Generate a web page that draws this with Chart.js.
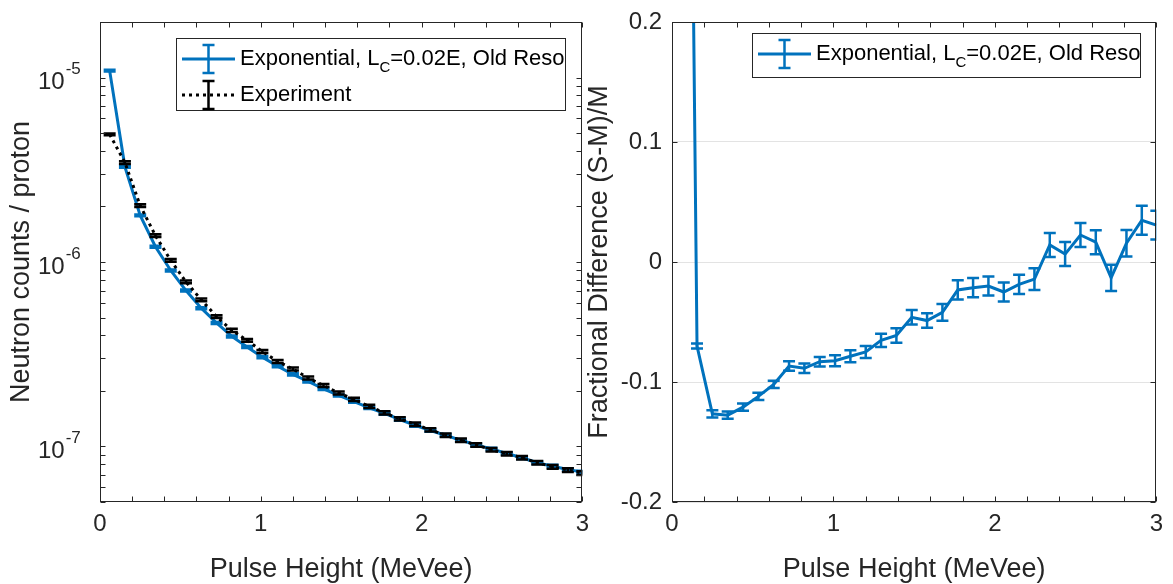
<!DOCTYPE html>
<html>
<head>
<meta charset="utf-8">
<script src="https://cdn.jsdelivr.net/npm/chart.js@4.4.1/dist/chart.umd.min.js"></script>
<style>
  html, body { margin: 0; padding: 0; background: #fff; }
  #wrap { position: relative; width: 1173px; height: 584px; overflow: hidden; }
  .pane { position: absolute; top: 0; }
</style>
</head>
<body>
<div id="wrap">
  <canvas id="left" class="pane" style="left:0" width="599" height="584"></canvas>
  <canvas id="right" class="pane" style="left:580px" width="593" height="584"></canvas>
</div>
<script>
// pulse height bin centres (MeVee)
var pulseHeight = [0.06, 0.155, 0.25, 0.345, 0.44, 0.535, 0.63, 0.725, 0.82, 0.915,
  1.01, 1.105, 1.2, 1.295, 1.39, 1.485, 1.58, 1.675, 1.77, 1.865,
  1.96, 2.055, 2.15, 2.245, 2.34, 2.435, 2.53, 2.625, 2.72, 2.815, 2.91, 3.0];

// simulation: Exponential, L_C=0.02E, Old Reso
var simCounts = [1.09e-5, 3.28e-6, 1.79e-6, 1.21e-6, 9.0e-7, 7.0e-7, 5.62e-7, 4.67e-7, 3.95e-7, 3.46e-7,
  3.05e-7, 2.72e-7, 2.46e-7, 2.25e-7, 2.05e-7, 1.89e-7, 1.75e-7, 1.62e-7, 1.51e-7, 1.40e-7,
  1.30e-7, 1.22e-7, 1.15e-7, 1.08e-7, 1.02e-7, 9.70e-8, 9.16e-8, 8.68e-8, 8.16e-8, 7.82e-8, 7.51e-8, 7.26e-8];
var simErr = [1.3e-7, 4e-8, 2.2e-8, 1.5e-8, 1.1e-8, 8.5e-9, 7e-9, 6e-9, 5e-9, 4.4e-9,
  4e-9, 3.6e-9, 3.3e-9, 3e-9, 2.8e-9, 2.6e-9, 2.4e-9, 2.3e-9, 2.2e-9, 2e-9,
  1.9e-9, 1.8e-9, 1.7e-9, 1.6e-9, 1.5e-9, 1.5e-9, 1.4e-9, 1.4e-9, 1.3e-9, 1.3e-9, 1.2e-9, 1.2e-9];

// measurement
var expCounts = [4.92e-6, 3.46e-6, 2.02e-6, 1.39e-6, 1.02e-6, 7.8e-7, 6.24e-7, 5.06e-7, 4.26e-7, 3.76e-7,
  3.27e-7, 2.89e-7, 2.63e-7, 2.35e-7, 2.14e-7, 1.95e-7, 1.80e-7, 1.65e-7, 1.52e-7, 1.41e-7,
  1.32e-7, 1.23e-7, 1.15e-7, 1.08e-7, 1.02e-7, 9.6e-8, 9.13e-8, 8.68e-8, 8.16e-8, 7.76e-8, 7.45e-8, 7.18e-8];
var expErr = [6e-8, 6e-8, 3.5e-8, 2.4e-8, 1.8e-8, 1.4e-8, 1.1e-8, 9e-9, 8e-9, 7e-9,
  6e-9, 5.5e-9, 5e-9, 4.5e-9, 4e-9, 3.8e-9, 3.5e-9, 3.3e-9, 3e-9, 2.9e-9,
  2.7e-9, 2.5e-9, 2.4e-9, 2.3e-9, 2.2e-9, 2.1e-9, 2e-9, 1.9e-9, 1.8e-9, 1.8e-9, 1.7e-9, 1.7e-9];

// fractional difference (S-M)/M
var fracDiff = [1.15, -0.070, -0.1265, -0.1276, -0.121, -0.112, -0.102, -0.0867, -0.0886, -0.0831,
  -0.0823, -0.0785, -0.0749, -0.0653, -0.0612, -0.0461, -0.0488, -0.042, -0.0233, -0.0214,
  -0.020, -0.025, -0.0187, -0.0143, 0.0142, 0.0066, 0.0225, 0.0165, -0.0132, 0.0156, 0.0348, 0.0307];
var fracErr = [0.05, 0.002, 0.003, 0.003, 0.003, 0.003, 0.003, 0.004, 0.004, 0.004,
  0.0045, 0.005, 0.005, 0.0055, 0.006, 0.006, 0.006, 0.007, 0.008, 0.008,
  0.008, 0.008, 0.008, 0.009, 0.010, 0.010, 0.010, 0.010, 0.011, 0.011, 0.012, 0.012];

// axis ticks
var xMinorTicks = [0, 0.2, 0.4, 0.6, 0.8, 1, 1.2, 1.4, 1.6, 1.8, 2, 2.2, 2.4, 2.6, 2.8, 3];
var logTicks = [5e-8, 6e-8, 7e-8, 8e-8, 9e-8, 1e-7, 2e-7, 3e-7, 4e-7, 5e-7, 6e-7, 7e-7, 8e-7, 9e-7,
  1e-6, 2e-6, 3e-6, 4e-6, 5e-6, 6e-6, 7e-6, 8e-6, 9e-6, 1e-5, 2e-5];
var logLabelValues = [1e-7, 1e-6, 1e-5];
var logLabelExps = ['-7', '-6', '-5'];
var diffTicks = [-0.2, -0.1, 0, 0.1, 0.2];

var FONT = "'Liberation Sans', Arial, Helvetica, sans-serif";
var AXIS = '#262626';
var BLUE = '#0072BD';

function pts(ys) {
  return pulseHeight.map(function (x, i) { return { x: x, y: ys[i] }; });
}

// vertical error bars with caps, drawn through the chart scales
var errorBars = {
  id: 'errorBars',
  afterDatasetDraw: function (chart, args) {
    var ds = chart.data.datasets[args.index];
    if (!ds.errorBars) return;
    var ctx = chart.ctx, a = chart.chartArea, xs = chart.scales.x, ys = chart.scales.y;
    ctx.save();
    ctx.beginPath();
    ctx.rect(a.left, a.top, a.right - a.left, a.bottom - a.top);
    ctx.clip();
    ctx.strokeStyle = ds.borderColor;
    ctx.lineWidth = 2.5;
    ctx.setLineDash([]);
    ds.data.forEach(function (p, i) {
      var e = ds.errorBars[i];
      var px = xs.getPixelForValue(p.x);
      var y1 = ys.getPixelForValue(p.y + e);
      var y2 = ys.getPixelForValue(p.y - e);
      ctx.beginPath();
      ctx.moveTo(px, y1); ctx.lineTo(px, y2);
      ctx.moveTo(px - 6, y1); ctx.lineTo(px + 6, y1);
      ctx.moveTo(px - 6, y2); ctx.lineTo(px + 6, y2);
      ctx.stroke();
    });
    ctx.restore();
  }
};

function drawParts(ctx, x, y, parts) {
  parts.forEach(function (p) {
    ctx.font = (p.sub ? 15 : 22) + 'px ' + FONT;
    ctx.fillText(p.t, x, y + (p.sub ? 9 : 0));
    x += ctx.measureText(p.t).width;
  });
}

// matlab-like box, inward ticks, log labels and legend
var axesBox = {
  id: 'axesBox',
  afterDraw: function (chart, args, o) {
    var ctx = chart.ctx, a = chart.chartArea, xs = chart.scales.x, ys = chart.scales.y;
    var L = Math.round(a.left) + 0.5, R = Math.round(a.right) - 0.5;
    var T = Math.round(a.top) + 0.5, B = Math.round(a.bottom) - 0.5;
    ctx.save();
    ctx.strokeStyle = AXIS;
    ctx.lineWidth = 1;
    ctx.beginPath();
    xMinorTicks.forEach(function (v) {
      var px = Math.round(xs.getPixelForValue(v)) + 0.5;
      ctx.moveTo(px, B); ctx.lineTo(px, B - 5);
      ctx.moveTo(px, T); ctx.lineTo(px, T + 5);
    });
    o.yTicks.forEach(function (v) {
      var py = Math.round(ys.getPixelForValue(v)) + 0.5;
      ctx.moveTo(L, py); ctx.lineTo(L + 5, py);
      ctx.moveTo(R, py); ctx.lineTo(R - 5, py);
    });
    ctx.stroke();
    ctx.strokeRect(L, T, R - L, B - T);

    ctx.fillStyle = AXIS;
    if (o.logLabels) {
      logLabelValues.forEach(function (v, i) {
        var py = ys.getPixelForValue(v);
        ctx.textBaseline = 'middle';
        ctx.textAlign = 'left';
        ctx.font = '24px ' + FONT;
        ctx.fillText('10', 38, py + 5);
        var w = ctx.measureText('10').width;
        ctx.font = '17px ' + FONT;
        ctx.fillText(logLabelExps[i], 38 + w + 1, py - 8);
      });
    }

    // legend
    var lg = o.legend;
    ctx.fillStyle = '#fff';
    ctx.fillRect(lg.x, lg.y, lg.w, lg.h);
    ctx.strokeStyle = AXIS;
    ctx.lineWidth = 1;
    ctx.strokeRect(lg.x + 0.5, lg.y + 0.5, lg.w, lg.h);
    lg.items.forEach(function (it, i) {
      var cy = lg.y + 21 + i * 36;
      var x0 = lg.x + 6, x1 = lg.x + 59, xm = (x0 + x1) / 2;
      ctx.strokeStyle = it.color;
      ctx.lineWidth = 3;
      ctx.setLineDash(it.dash || []);
      ctx.beginPath(); ctx.moveTo(x0, cy); ctx.lineTo(x1, cy); ctx.stroke();
      ctx.setLineDash([]);
      ctx.lineWidth = 2.5;
      ctx.beginPath();
      ctx.moveTo(xm, cy - 14); ctx.lineTo(xm, cy + 14);
      ctx.moveTo(xm - 6, cy - 14); ctx.lineTo(xm + 6, cy - 14);
      ctx.moveTo(xm - 6, cy + 14); ctx.lineTo(xm + 6, cy + 14);
      ctx.stroke();
      ctx.fillStyle = '#000';
      ctx.textBaseline = 'middle';
      ctx.textAlign = 'left';
      drawParts(ctx, lg.x + 64, cy, it.parts);
    });
    ctx.restore();
  }
};

var simLabel = [{ t: 'Exponential, L' }, { t: 'C', sub: true }, { t: '=0.02E, Old Reso' }];

function xAxis() {
  return {
    type: 'linear', min: 0, max: 3,
    grid: { display: false, drawTicks: false },
    border: { display: false },
    ticks: { stepSize: 1, color: AXIS, padding: 10, maxRotation: 0, font: { family: FONT, size: 24, lineHeight: 1 } },
    title: { display: true, text: 'Pulse Height (MeVee)', color: AXIS, font: { family: FONT, size: 27, lineHeight: 1 }, padding: { top: 0, bottom: 1 } },
    afterFit: function (s) { s.height = 82; }
  };
}

new Chart(document.getElementById('left'), {
  type: 'line',
  data: {
    datasets: [{
      label: 'Exponential, L_C=0.02E, Old Reso',
      data: pts(simCounts),
      errorBars: simErr,
      borderColor: BLUE,
      borderWidth: 3,
      pointRadius: 0,
      clip: 0,
      order: 2
    }, {
      label: 'Experiment',
      data: pts(expCounts),
      errorBars: expErr,
      borderColor: '#000',
      borderWidth: 3,
      borderDash: [3, 4],
      pointRadius: 0,
      clip: 0,
      order: 1
    }]
  },
  options: {
    responsive: false,
    animation: false,
    layout: { padding: { top: 22, right: 9, left: 0, bottom: 0 } },
    plugins: {
      legend: { display: false },
      tooltip: { enabled: false },
      axesBox: {
        yTicks: logTicks,
        logLabels: true,
        legend: {
          x: 176, y: 38, w: 389, h: 72,
          items: [
            { color: BLUE, parts: simLabel },
            { color: '#000', dash: [3, 4], parts: [{ t: 'Experiment' }] }
          ]
        }
      }
    },
    scales: {
      x: xAxis(),
      y: {
        type: 'logarithmic', min: 5e-8, max: 2e-5,
        grid: { display: false, drawTicks: false },
        border: { display: false },
        ticks: { display: false },
        title: { display: true, text: 'Neutron counts / proton', color: AXIS, font: { family: FONT, size: 27, lineHeight: 1 }, padding: { top: 8, bottom: 0 } },
        afterFit: function (s) { s.width = 100; }
      }
    }
  },
  plugins: [errorBars, axesBox]
});

new Chart(document.getElementById('right'), {
  type: 'line',
  data: {
    datasets: [{
      label: 'Exponential, L_C=0.02E, Old Reso',
      data: pts(fracDiff),
      errorBars: fracErr,
      borderColor: BLUE,
      borderWidth: 3,
      pointRadius: 0,
      clip: 0
    }]
  },
  options: {
    responsive: false,
    animation: false,
    layout: { padding: { top: 17, right: 16, left: 0, bottom: 0 } },
    plugins: {
      legend: { display: false },
      tooltip: { enabled: false },
      axesBox: {
        yTicks: diffTicks,
        logLabels: false,
        legend: {
          x: 172, y: 33, w: 388, h: 44,
          items: [{ color: BLUE, parts: simLabel }]
        }
      }
    },
    scales: {
      x: xAxis(),
      y: {
        type: 'linear', min: -0.2, max: 0.2,
        grid: { display: true, drawTicks: false, color: '#e3e3e3', lineWidth: 1 },
        border: { display: false },
        ticks: {
          stepSize: 0.1, color: AXIS, padding: 10, font: { family: FONT, size: 24, lineHeight: 1 },
          callback: function (v) { return String(Number(v.toFixed(1))); }
        },
        title: { display: true, text: 'Fractional Difference (S-M)/M', color: AXIS, font: { family: FONT, size: 27, lineHeight: 1 }, padding: { top: 6, bottom: 0 } },
        afterFit: function (s) { s.width = 92; }
      }
    }
  },
  plugins: [errorBars, axesBox]
});
</script>
</body>
</html>
